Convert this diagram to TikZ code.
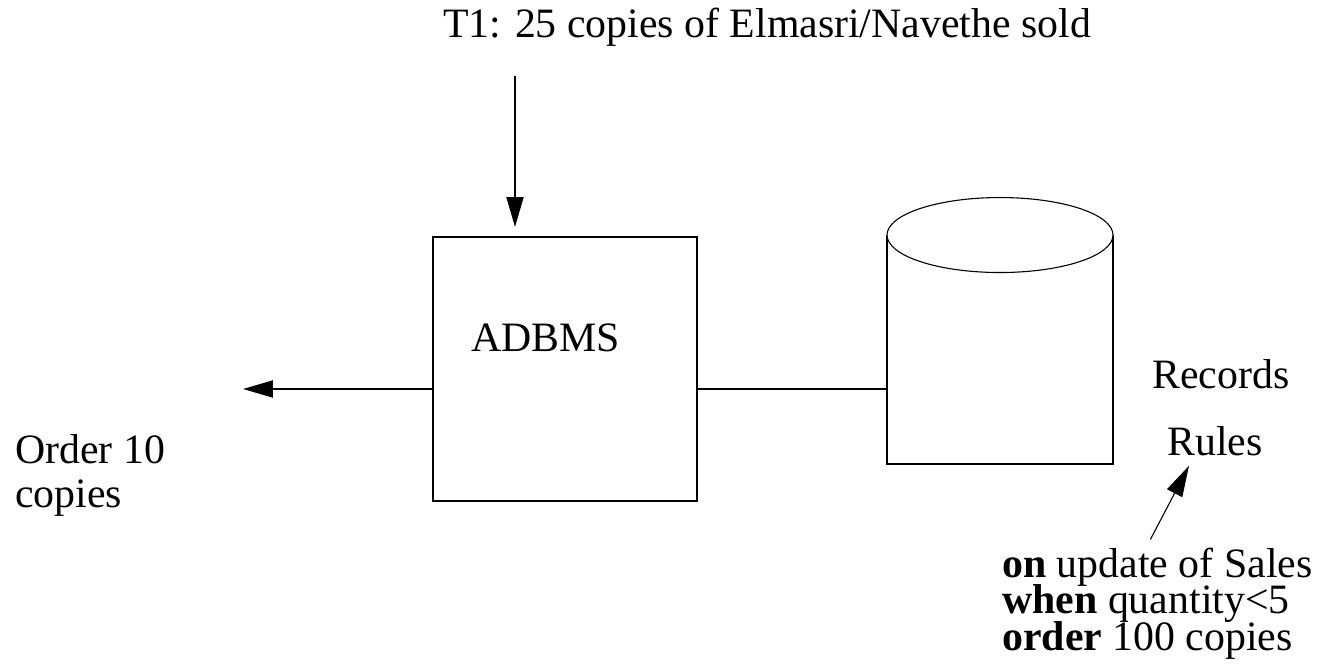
\documentclass[tikz,border=0pt]{standalone}
\usepackage{fontspec}
\setmainfont{Liberation Serif}
\usepackage{tikz}
\usetikzlibrary{shapes.geometric, arrows.meta, positioning}
\newcommand{\tightlines}{\lineskiplimit=-1cm\relax}
\tikzset{
  font=\fontsize{23.8}{25}\selectfont,
  labeltext/.style={inner sep=0pt, align=left},
  procblock/.style={
    rectangle, draw=black, line width=0.04cm,
    minimum width=5.28cm, minimum height=5.28cm
  },
  storeblock/.style={
    rectangle, draw=black, line width=0.04cm,
    minimum width=4.52cm, minimum height=4.56cm
  },
  storetop/.style={
    ellipse, draw=black, fill=white, line width=0.022cm, inner sep=0pt,
    minimum width=4.52cm, minimum height=1.5cm
  },
  flowline/.style={
    draw=black, -{Triangle[length=0.6cm, width=0.34cm]}, line width=0.04cm
  },
  noteline/.style={
    draw=black, -{Triangle[length=0.62cm, width=0.34cm]}, line width=0.022cm
  },
  linkline/.style={draw=black, line width=0.04cm}
}
\begin{document}
\begin{tikzpicture}[x=0.02cm, y=-0.02cm]
  \path[use as bounding box, fill=white] (0,0) rectangle (1328,667);

  % transaction and system
  \node[labeltext, anchor=base] (txn) at (767,37) {T1: 25 copies of Elmasri/Navethe sold};
  \coordinate (feed) at (515,76);
  \node[procblock] (adbms) at (565,369) {};
  \node[labeltext, anchor=base west] (adbmsname) at (471,351) {ADBMS};

  % database with records and rules
  \node[storeblock] (db) at (1000,350) {};
  \node[storetop] (dbtop) at (db.north) {};
  \node[labeltext, anchor=base west] (records) at (1152,388) {Records};
  \node[labeltext, anchor=base west] (rules) at (1167,455) {Rules};
  \node[labeltext, anchor=base west, font=\fontsize{23.8}{20.7}\selectfont\tightlines] (trigger) at (1002,650) {
    \textbf{on} update of Sales\\
    \textbf{when} quantity<5\\
    \textbf{order} 100 copies
  };

  % action taken
  \coordinate (ordertip) at (243,389);
  \node[labeltext, anchor=base west, font=\fontsize{23.8}{25}\selectfont] (order) at (15,507) {
    Order 10\\
    copies
  };

  \draw[flowline, shorten >=0.18cm] (feed) -- (feed |- adbms.north);
  \draw[flowline] (adbms.west |- ordertip) -- (ordertip);
  \draw[linkline] (adbms.east |- ordertip) -- (db.west |- ordertip);
  \draw[noteline] ([xshift=-0.14cm, yshift=0.16cm]trigger.north) -- ([xshift=-0.52cm, yshift=-0.2cm]rules.south);
\end{tikzpicture}
\end{document}
